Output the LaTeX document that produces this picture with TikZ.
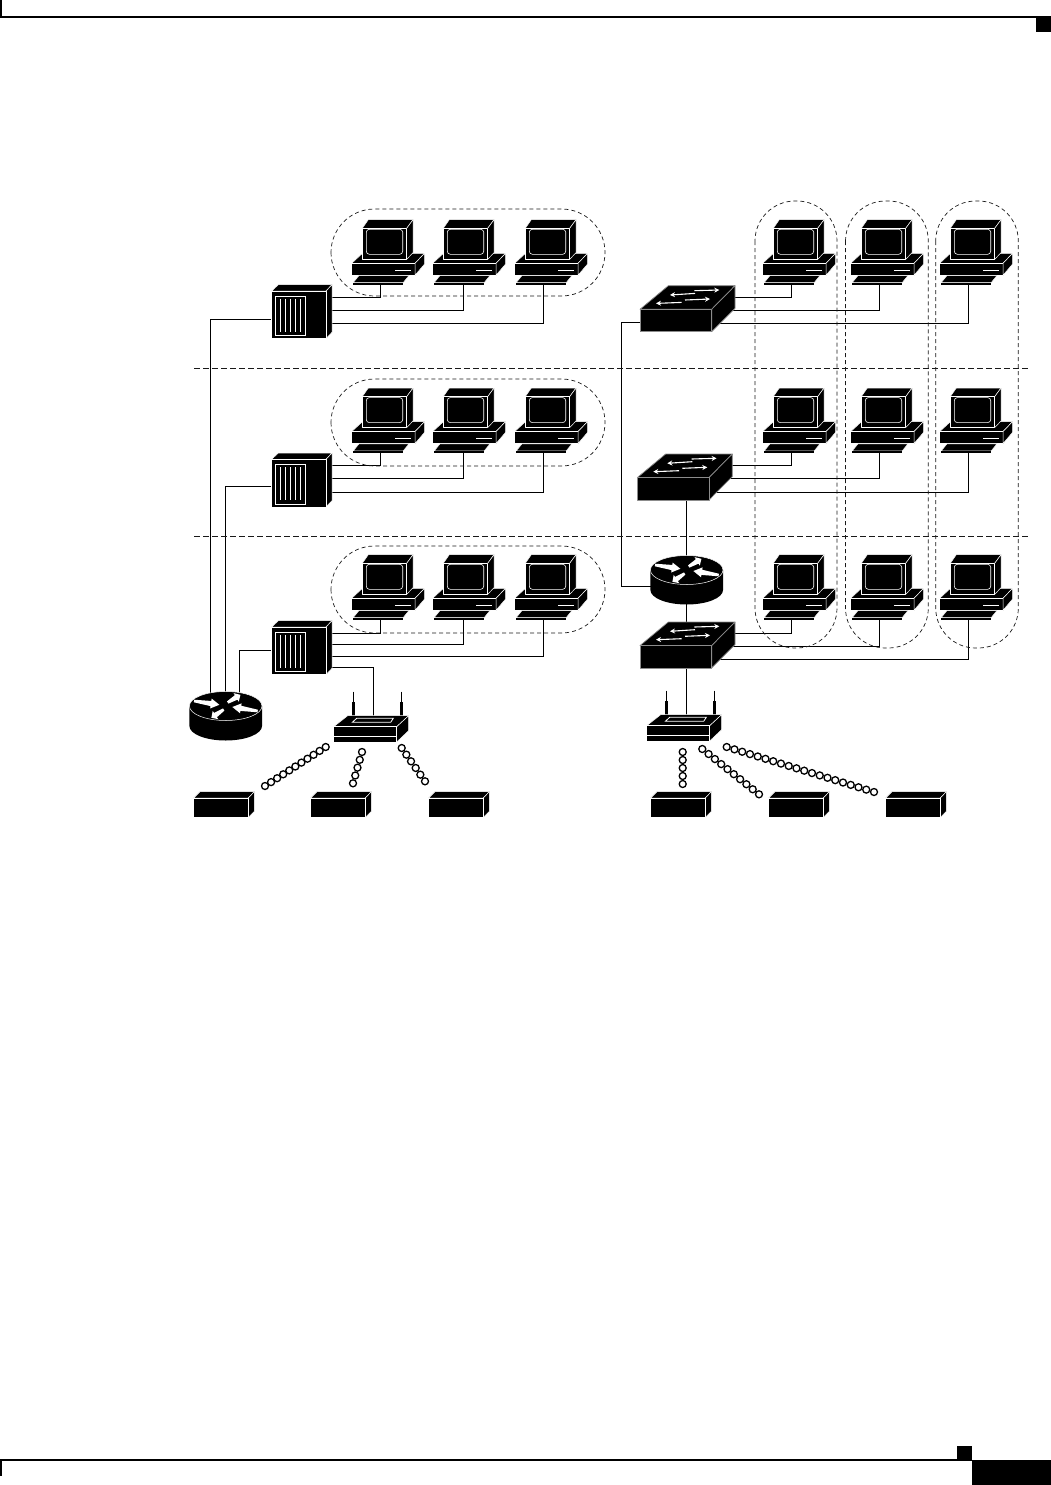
\documentclass[tikz,border=0pt]{standalone}
\usepackage{tikz}
\usetikzlibrary{arrows.meta,calc,backgrounds}
\newcommand{\rtarrow}[3]{%
  \fill[white,shift={#1},rotate=#2,xscale=#3] (0,-1.3) -- (18,-2.6) -- (18,-5) -- (27,0)
    -- (18,5) -- (18,2.6) -- (0,1.3) -- cycle;
}
\tikzset{
  face/.style={fill=black,draw=white,line width=0.5pt,line join=round},
  greyface/.style={fill=black,draw=black!45,line width=0.7pt,line join=round},
  wire/.style={draw=black,line width=0.85pt},
  zone/.style={draw=black!90,line width=0.7pt,dash pattern=on 4pt off 3pt},
  floorline/.style={draw=black!90,line width=0.7pt,dash pattern=on 5.5pt off 3.5pt},
  bead/.style={circle,draw=black,fill=white,line width=1.3pt,inner sep=0pt,minimum size=7pt},
  swarrow/.style={-{Stealth[length=5pt,width=5pt]},white,line width=1.1pt},
  workstation/.pic={
    \path[face] (-0.3,43.3) -- (9.7,34) -- (72.6,33.3) -- (63,43.3) -- cycle;
    \path[face] (-0.3,43.3) rectangle (63,55.3);
    \path[face] (63,43.3) -- (72.6,33.3) -- (72.6,44) -- (63,55.3) -- cycle;
    \path[face] (10.3,8.3) -- (16.3,-0.3) -- (61,-0.3) -- (54.7,8.3) -- cycle;
    \path[face] (54.7,8.3) -- (61,-0.3) -- (61,32.7) -- (54.7,39.3) -- cycle;
    \path[face] (10.3,8.3) rectangle (54.7,39.3);
    \draw[white,line width=0.6pt,rounded corners=3pt] (14.3,9.3) rectangle (50.7,34.3);
    \draw[white,line width=0.8pt] (43,50.3) -- (58.5,50.3);
    \path[face] (1.3,62.5) -- (7,55.5) -- (57,55.5) -- (51.3,62.5) -- cycle;
    \fill[black] (1.3,62.8) -- (51.3,62.8) -- (51.3,64.8) -- (1.3,64.8) -- cycle;
    \coordinate (-port) at (28.7,65);
    \coordinate (-portb) at (30.3,65);
  },
  hubrack/.pic={
    \path[face] (-0.3,6) -- (6.3,-0.3) -- (60,-0.3) -- (54,6) -- cycle;
    \path[face] (54,6) -- (60,-0.3) -- (60,47.3) -- (54,53.6) -- cycle;
    \path[face] (-0.3,6) rectangle (54,53.6);
    \draw[white,line width=0.6pt] (3.7,11.3) rectangle (33.7,50.7);
    \foreach \x in {8.7,13.3,18,23,28}
      \draw[white,line width=0.6pt] (\x,13.7) -- (\x,46.7);
  },
  switchbox/.pic={
    \path[greyface] (0,23.6) -- (28.3,0) -- (95,0) -- (71.7,23.6) -- cycle;
    \path[greyface] (71.7,23.6) -- (95,0) -- (95,22.6) -- (71.7,46) -- cycle;
    \path[greyface] (0,23.6) rectangle (71.7,46);
    \draw[swarrow] (55,7.7) -- (30,9.3);
    \draw[swarrow] (54.3,5) -- (79.3,4.3);
    \draw[swarrow] (41.7,16.7) -- (16,17.7);
    \draw[swarrow] (45,14.3) -- (70,13.3);
    \coordinate (-w) at (0,37);
    \coordinate (-n) at (46.3,0);
    \coordinate (-s) at (46.3,46);
  },
  routerdisc/.pic={
    \fill[black] (-36.3,0) -- (-36.3,20) arc[start angle=180,end angle=0,x radius=36.3,y radius=14.5]
      -- (36.3,0) -- cycle;
    \path[face] (0,0) ellipse[x radius=36.3,y radius=14.5];
    \rtarrow{(-31.7,-5)}{-8.5}{0.95}
    \rtarrow{(2,-3.5)}{31}{0.55}
    \rtarrow{(32,5)}{171}{0.95}
    \rtarrow{(-2,3.5)}{-146}{0.55}
    \coordinate (-n) at (0,-14);
    \coordinate (-s) at (0,34);
    \coordinate (-w) at (-36,16.7);
    \coordinate (-n1) at (-15.4,-12);
    \coordinate (-n2) at (-0.4,-14);
    \coordinate (-n3) at (13.6,-12);
  },
  accesspoint/.pic={
    \foreach \x in {19.7,67.7} {
      \draw[black,line width=1.4pt] (\x,-24.5) -- (\x,-13);
      \draw[black,line width=2.6pt] (\x,-14) -- (\x,0);
    }
    \path[face] (-0.3,10.7) -- (13.7,-0.3) -- (74.6,-0.3) -- (62.7,10.7) -- cycle;
    \path[face] (62.7,10.7) -- (74.6,-0.3) -- (74.6,14.7) -- (62.7,26) -- cycle;
    \path[face] (-0.3,10.7) rectangle (62.7,26);
    \draw[white,line width=0.7pt] (0,20) -- (62.7,20);
    \draw[white,line width=0.8pt] (18.3,6.3) -- (22.7,2.3) -- (59.3,2.3) -- (56.7,6.3) -- cycle;
    \coordinate (-n) at (39.3,2.3);
  },
  client/.pic={
    \path[face] (-0.3,6) -- (6,-0.3) -- (60.3,-0.3) -- (54.3,6) -- cycle;
    \path[face] (54.3,6) -- (60.3,-0.3) -- (60.3,19.3) -- (54.3,25.6) -- cycle;
    \path[face] (-0.3,6) rectangle (54.3,25.6);
  }
}
\newcommand{\beadlink}[4]{%
  \coordinate (#1a) at #2;
  \coordinate (#1b) at #3;
  \foreach \i in {0,...,#4}
    \node[bead] (#1\i) at ($(#1a)!\i/#4!(#1b)$) {};
}
\begin{document}
\begin{tikzpicture}[x=1pt,y=-1pt]
  \useasboundingbox (0,0) rectangle (1051,1485);
  % page furniture
  \fill[black] (0,16.3) rectangle (1051,17.7);
  \fill[black] (0,0) rectangle (2,17);
  \fill[black] (1036,17) rectangle (1051,32);
  \fill[black] (0,1459.4) rectangle (972,1460.6);
  \fill[black] (0,1460) rectangle (2,1476);
  \fill[black] (957,1446) rectangle (972,1460);
  \fill[black] (972,1460) rectangle (1051,1485);
  % floors and groups
  \draw[floorline] (194,368) -- (1030,368);
  \draw[floorline] (194,536) -- (1030,536);
  \foreach \y in {209,379,546}
    \draw[zone,rounded corners=43.5pt] (331,\y) rectangle (605,\y+87);
  \draw[zone,rounded corners=40pt] (755,201) rectangle (837,648);
  \draw[zone,rounded corners=40pt] (845.5,201) rectangle (928.3,648);
  \draw[zone,rounded corners=40pt] (935.7,201) rectangle (1018.3,648);
  % devices
  \foreach \r/\h/\p/\k/\u/\v/\w in {1/285/220/319/297/310/323,
      2/453.3/388.3/486.3/465.3/478.3/492.3,3/621/555/650.3/633.7/644.3/656.3} {
    \pic (hub\r) at (272,\h) {hubrack};
    \coordinate (hub\r-w) at (272,\k);
    \coordinate (hub\r-e1) at (300,\u);
    \coordinate (hub\r-e2) at (300,\v);
    \coordinate (hub\r-e3) at (300,\w);
    \pic (pcl\r a) at (352,\p) {workstation};
    \pic (pcl\r b) at (433,\p) {workstation};
    \pic (pcl\r c) at (515,\p) {workstation};
    \pic (pcr\r a) at (763,\p) {workstation};
    \pic (pcr\r b) at (851,\p) {workstation};
    \pic (pcr\r c) at (940,\p) {workstation};
  }
  \coordinate (hub3-e4) at (300,667);
  \pic (sw1) at (640,285.7) {switchbox};
  \pic (sw2) at (637.3,454) {switchbox};
  \pic (sw3) at (640,622) {switchbox};
  \foreach \r/\u/\v/\w in {1/297/310/323,2/465.3/478.3/492.3,3/633.3/646.7/659} {
    \coordinate (sw\r-e1) at (700,\u);
    \coordinate (sw\r-e2) at (700,\v);
    \coordinate (sw\r-e3) at (700,\w);
  }
  \pic (rtl) at (225.7,706) {routerdisc};
  \pic (rtr) at (686.7,570) {routerdisc};
  \pic (apl) at (334,716) {accesspoint};
  \pic (apr) at (647,715) {accesspoint};
  \coordinate (bendr) at (621.3,322.7);
  % wires
  \begin{scope}[on background layer]
    \foreach \r in {1,2,3} {
      \draw[wire] (hub\r-e1) -| (pcl\r a-port);
      \draw[wire] (hub\r-e2) -| (pcl\r b-portb);
      \draw[wire] (hub\r-e3) -| (pcl\r c-port);
      \draw[wire] (sw\r-e1) -| (pcr\r a-port);
      \draw[wire] (sw\r-e2) -| (pcr\r b-port);
      \draw[wire] (sw\r-e3) -| (pcr\r c-port);
    }
    \draw[wire] (hub1-w) -| (rtl-n1);
    \draw[wire] (hub2-w) -| (rtl-n2);
    \draw[wire] (hub3-w) -| (rtl-n3);
    \draw[wire] (hub3-e4) -| (apl-n);
    \draw[wire] (sw1-w) -- (bendr) |- (rtr-w);
    \draw[wire] (rtr-n) -- (rtr-n |- sw2-s);
    \draw[wire] (rtr-s) -- (rtr-s |- sw3-n);
    \draw[wire] (apr-n |- sw3-s) -- (apr-n);
  \end{scope}
  % clients and radio links
  \foreach \n/\x in {a/194,b/311,c/429,d/651,e/769,f/886}
    \pic (cl\n) at (\x,792) {client};
  \beadlink{lka}{(265,786)}{(325.7,747)}{10}
  \beadlink{lkb}{(353,783.3)}{(362,752)}{4}
  \beadlink{lkc}{(401.7,748)}{(425,781.3)}{5}
  \beadlink{lkd}{(682.7,752)}{(682.7,784)}{4}
  \beadlink{lke}{(702.3,749)}{(759,794.3)}{9}
  \beadlink{lkf}{(726.7,747)}{(874,792)}{19}
\end{tikzpicture}
\end{document}
